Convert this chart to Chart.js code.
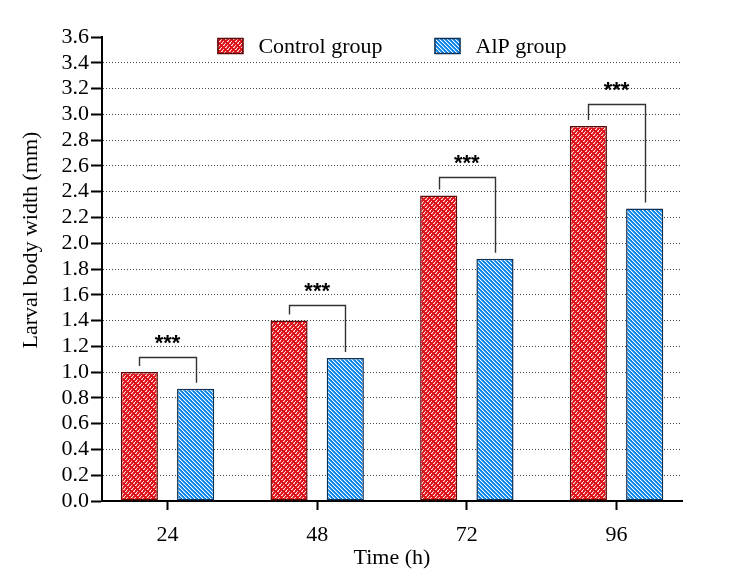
<!DOCTYPE html>
<html>
<head>
<meta charset="utf-8">
<script src="https://cdn.jsdelivr.net/npm/chart.js@4.4.1/dist/chart.umd.min.js"></script>
<style>
  body { margin: 0; background: #fff; }
  canvas { display: block; }
</style>
</head>
<body>
<canvas id="chart" width="742" height="579"></canvas>
<script>
// data

const times = [24, 48, 72, 96];
const controlWidth = [1.00, 1.40, 2.37, 2.91];
const alpWidth = [0.87, 1.11, 1.88, 2.27];
const bracketTop = [1.12, 1.52, 2.51, 3.08];
const sigLabels = ["***", "***", "***", "***"];
const seriesNames = ["Control group", "AlP group"];

const serif = "'Liberation Serif', 'Times New Roman', serif";

// fill patterns

function makePattern(bg, fg, fg2, test) {
    const c = document.createElement("canvas");
    c.width = 8;
    c.height = 8;
    const g = c.getContext("2d");
    g.fillStyle = bg;
    g.fillRect(0, 0, 8, 8);
    for (let i = 0; i < 8; i++) {
        for (let j = 0; j < 8; j++) {
            const t = test(i, j);
            if (t === 1) { g.fillStyle = fg; g.fillRect(i, j, 1, 1); }
            if (t === 2) { g.fillStyle = fg2; g.fillRect(i, j, 1, 1); }
        }
    }
    return g.createPattern(c, "repeat");
}

const ctx0 = document.getElementById("chart").getContext("2d");

const redFill = makePattern("#e0161d", "#ffe4e4", "#f08a8d", (i, j) => {
    const d = (i + j) % 4;
    const a = (i - j + 16) % 8;
    if (d === 0 && a !== 0) return 1;
    if (d === 1 && a === 3) return 2;
    return 0;
});

const blueFill = makePattern("#0c85e8", "#ffffff", "#55acf2", (i, j) => {
    const d = (i - j + 16) % 4;
    if (d === 0) return 1;
    if (d === 1) return 2;
    return 0;
});

const fills = [redFill, blueFill];
const borders = ["#5c0b0b", "#0f2f55"];

// plugins

const sigPlugin = {
    id: "sig",
    afterDatasetsDraw(chart) {
        const { ctx } = chart;
        const x = chart.scales.x;
        const y = chart.scales.y;
        const a = chart.getDatasetMeta(0).data;
        const b = chart.getDatasetMeta(1).data;
        ctx.save();
        ctx.strokeStyle = "#333";
        ctx.lineWidth = 1.4;
        ctx.fillStyle = "#000";
        ctx.font = "bold 22px 'Liberation Sans', Arial, sans-serif";
        ctx.textAlign = "center";
        ctx.textBaseline = "alphabetic";
        times.forEach((t, i) => {
            const top = Math.round(y.getPixelForValue(bracketTop[i])) + 0.5;
            const ya = y.getPixelForValue(controlWidth[i]) - 6;
            const yb = y.getPixelForValue(alpWidth[i]) - 6;
            const xa = Math.round(a[i].x) + 0.5;
            const xb = Math.round(b[i].x) + 0.5;
            ctx.beginPath();
            ctx.moveTo(xa, ya);
            ctx.lineTo(xa, top);
            ctx.lineTo(xb, top);
            ctx.lineTo(xb, yb);
            ctx.stroke();
            ctx.fillText(sigLabels[i], x.getPixelForValue(t), top - 8);
        });
        ctx.restore();
    }
};

const legendPlugin = {
    id: "topLegend",
    afterDraw(chart) {
        const { ctx, chartArea } = chart;
        ctx.save();
        ctx.font = "22px " + serif;
        ctx.textBaseline = "middle";
        ctx.textAlign = "left";
        const box = 26, boxH = 16, gap = 15, between = 52;
        const widths = seriesNames.map(s => box + gap + ctx.measureText(s).width);
        const total = widths[0] + between + widths[1];
        let x = (chartArea.left + chartArea.right) / 2 - total / 2;
        const cy = 46;
        seriesNames.forEach((s, i) => {
            ctx.fillStyle = fills[i];
            ctx.fillRect(x, cy - boxH / 2, box, boxH);
            ctx.strokeStyle = borders[i];
            ctx.lineWidth = 1.5;
            ctx.strokeRect(x + 0.5, cy - boxH / 2 + 0.5, box - 1, boxH - 1);
            ctx.fillStyle = "#000";
            ctx.fillText(s, x + box + gap, cy + 1);
            x += widths[i] + between;
        });
        // y axis title
        ctx.translate(31, 240);
        ctx.rotate(-Math.PI / 2);
        ctx.textAlign = "center";
        ctx.fillText("Larval body width (mm)", 0, 0);
        ctx.restore();
    }
};

// chart

new Chart(ctx0, {
    type: "bar",
    data: {
        datasets: [
            {
                label: seriesNames[0],
                data: controlWidth.map((v, i) => ({ x: times[i], y: v })),
                backgroundColor: redFill,
                borderColor: borders[0],
                borderWidth: 1.5,
                borderSkipped: false
            },
            {
                label: seriesNames[1],
                data: alpWidth.map((v, i) => ({ x: times[i], y: v })),
                backgroundColor: blueFill,
                borderColor: borders[1],
                borderWidth: 1.5,
                borderSkipped: false
            }
        ]
    },
    options: {
        responsive: false,
        animation: false,
        devicePixelRatio: 1,
        barPercentage: 0.66,
        categoryPercentage: 0.752,
        layout: { padding: { top: 37, right: 60, left: 0, bottom: 0 } },
        plugins: {
            legend: { display: false },
            tooltip: { enabled: false }
        },
        scales: {
            x: {
                type: "linear",
                min: 13.5,
                max: 106.5,
                offset: false,
                z: 1,
                afterBuildTicks: (scale) => {
                    scale.ticks = times.map(v => ({ value: v }));
                },
                afterFit: (scale) => { scale.height = 78; },
                grid: {
                    offset: false,
                    drawOnChartArea: false,
                    tickLength: 9,
                    tickColor: "#000",
                    tickWidth: 2
                },
                border: { display: true, color: "#000", width: 2 },
                ticks: {
                    autoSkip: false,
                    maxRotation: 0,
                    padding: 12,
                    color: "#000",
                    font: { family: serif, size: 22 },
                    callback: (v) => String(v)
                },
                title: {
                    display: true,
                    text: "Time (h)",
                    color: "#000",
                    font: { family: serif, size: 22 },
                    padding: { top: 0, bottom: 8 }
                }
            },
            y: {
                min: 0,
                max: 3.6,
                afterFit: (scale) => { scale.width = 102; },
                grid: {
                    color: (c) => {
                        const v = c.tick ? c.tick.value : 0;
                        return (v < 0.01 || v > 3.55) ? "rgba(0,0,0,0)" : "#444";
                    },
                    lineWidth: 1,
                    tickLength: 11,
                    tickColor: "#000",
                    tickWidth: 2,
                    tickBorderDash: []
                },
                border: { display: true, color: "#000", width: 2, dash: [1, 2] },
                ticks: {
                    stepSize: 0.2,
                    autoSkip: false,
                    padding: 2,
                    color: "#000",
                    font: { family: serif, size: 22, lineHeight: 1 },
                    callback: (v) => Number(v).toFixed(1)
                }
            }
        }
    },
    plugins: [sigPlugin, legendPlugin]
});
</script>
</body>
</html>
